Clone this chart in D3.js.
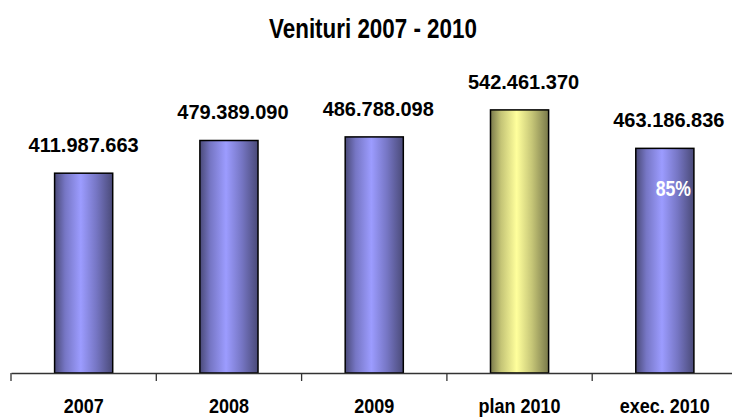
<!DOCTYPE html>
<html>
<head>
<meta charset="utf-8">
<script src="https://cdn.jsdelivr.net/npm/d3@7"></script>
<style>
  body { margin: 0; background: #fff; }
  svg { display: block; }
  text { font-family: 'Liberation Sans', Arial, sans-serif; font-weight: bold; }
</style>
</head>
<body>
<svg width="732" height="418"></svg>
<script>
const categories = ['2007', '2008', '2009', 'plan 2010', 'exec. 2010'];
const values = [411987663, 479389090, 486788098, 542461370, 463186836];
const valueLabels = ['411.987.663', '479.389.090', '486.788.098', '542.461.370', '463.186.836'];
const barKind = ['real', 'real', 'real', 'plan', 'real'];
const execPercent = '85%';
const title = 'Venituri 2007 - 2010';

const svg = d3.select('svg');
const baseY = 373;

const x = d3.scaleBand()
    .domain(categories)
    .range([11, 737.5])
    .padding(0);

const y = d3.scaleLinear()
    .domain([0, 600000000])
    .range([baseY, 82]);

const barW = x.bandwidth() * 0.4;

// the original uses a condensed face, squeeze the text horizontally
function squeeze(sel, px, py, sx) {
    sel.attr('x', 0).attr('y', 0)
        .attr('transform', `translate(${px},${py}) scale(${sx},1)`);
}

// horizontal cylinder-like gradients
const defs = svg.append('defs');
function addGradient(id, dark, mid, light) {
    const g = defs.append('linearGradient')
        .attr('id', id)
        .attr('x1', '0%').attr('x2', '100%')
        .attr('y1', '0%').attr('y2', '0%');
    g.append('stop').attr('offset', '0%').attr('stop-color', dark);
    g.append('stop').attr('offset', '18%').attr('stop-color', mid);
    g.append('stop').attr('offset', '45%').attr('stop-color', light);
    g.append('stop').attr('offset', '72%').attr('stop-color', mid);
    g.append('stop').attr('offset', '100%').attr('stop-color', dark);
}
addGradient('grad-real', '#4a4a78', '#7676c4', '#9c9cff');
addGradient('grad-plan', '#78784a', '#c4c476', '#ffff9c');

svg.append('text')
    .attr('text-anchor', 'middle')
    .style('font-size', '28px')
    .text(title)
    .call(squeeze, 373, 38, 0.8);

// bars
svg.append('g')
    .selectAll('rect')
    .data(values)
    .enter()
    .append('rect')
    .attr('x', (d, i) => x(categories[i]) + (x.bandwidth() - barW) / 2)
    .attr('y', d => y(d))
    .attr('width', barW)
    .attr('height', d => baseY - y(d))
    .attr('fill', (d, i) => barKind[i] === 'plan' ? 'url(#grad-plan)' : 'url(#grad-real)')
    .attr('stroke', '#000')
    .attr('stroke-width', 1.5);

// value labels
svg.append('g')
    .selectAll('text')
    .data(values)
    .enter()
    .append('text')
    .attr('x', (d, i) => x(categories[i]) + x.bandwidth() / 2 + (i > 0 ? 4 : 0))
    .attr('y', d => y(d) - 21)
    .attr('text-anchor', 'middle')
    .style('font-size', '20px')
    .text((d, i) => valueLabels[i]);

// percent inside exec bar
const execCat = categories[4];
svg.append('text')
    .attr('text-anchor', 'end')
    .attr('fill', '#fff')
    .style('font-size', '22px')
    .text(execPercent)
    .call(squeeze, x(execCat) + (x.bandwidth() + barW) / 2 - 3, y(values[4]) + 48, 0.8);

// category axis
const axis = svg.append('g')
    .attr('transform', `translate(0,${baseY})`)
    .call(d3.axisBottom(x).tickSize(0).tickFormat(''));
axis.select('.domain').attr('stroke', '#333').attr('stroke-width', 1.3);

axis.selectAll('.sep')
    .data(categories)
    .enter()
    .append('line')
    .attr('class', 'sep')
    .attr('x1', d => x(d)).attr('x2', d => x(d))
    .attr('y1', 0).attr('y2', 8)
    .attr('stroke', '#333')
    .attr('stroke-width', 1.3);

svg.append('g')
    .selectAll('text')
    .data(categories)
    .enter()
    .append('text')
    .attr('text-anchor', 'middle')
    .style('font-size', '20px')
    .text(d => d)
    .each(function(d) {
        d3.select(this).call(squeeze, x(d) + x.bandwidth() / 2, 413, 0.9);
    });
</script>
</body>
</html>
